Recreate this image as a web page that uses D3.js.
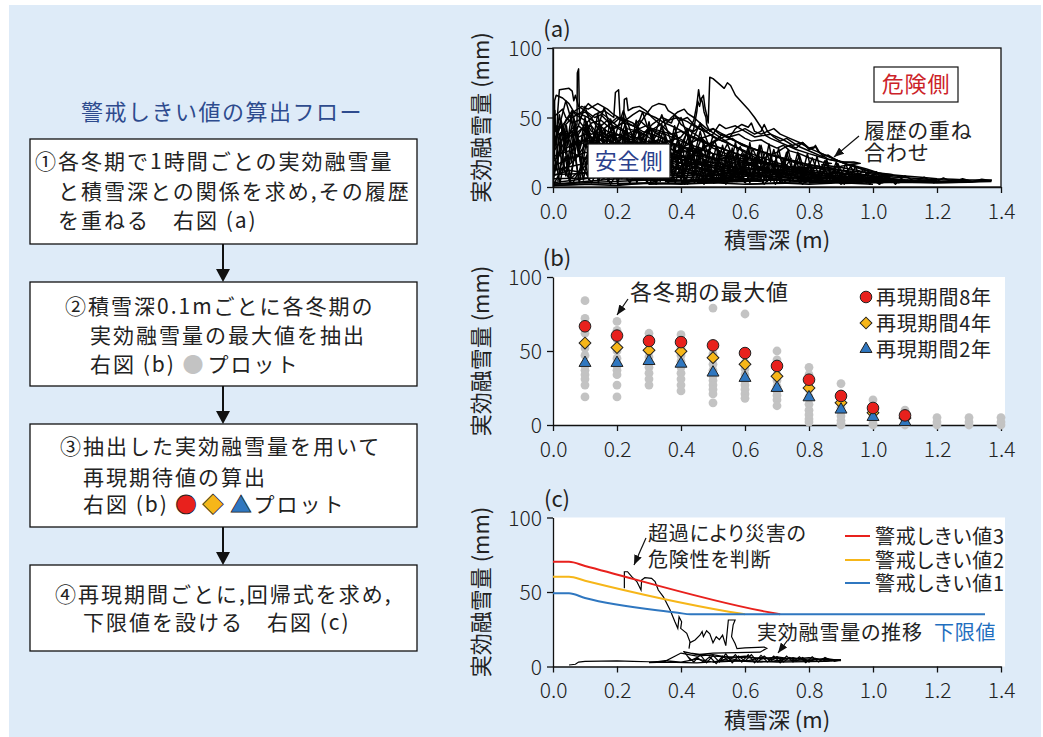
<!DOCTYPE html>
<html>
<head>
<meta charset="utf-8">
<style>
  body { margin: 0; background: #fff; }
  svg text { font-family: 'Noto Sans CJK JP', 'Noto Sans', sans-serif; font-weight: 400; }
  svg .tick text { font-weight: 300; }
  svg text.tight { font-feature-settings: "palt"; }
</style>
</head>
<body>
<svg id="fig" width="1043" height="737"></svg>
<script src="https://d3js.org/d3.v7.min.js"></script>
<script>
// ---- data ----
var depthTicks = [0, 0.2, 0.4, 0.6, 0.8, 1.0, 1.2, 1.4];
var meltTicks = [0, 50, 100];

// (a) hourly melt vs snow depth, one list per winter history
var histories = [
  [[0.005,20],[0.005,62],[0.01,66],[0.03,64],[0.05,60],[0.07,52],[0.1,48],[0.12,40],[0.16,36],[0.2,30],[0.25,25],[0.3,18],[0.35,12],[0.4,8],[0.3,3],[0.1,2],[0,1]],
  [[0.01,30],[0.015,55],[0.02,70],[0.05,71],[0.06,69],[0.065,62],[0.07,66],[0.08,58],[0.1,55],[0.13,50],[0.15,52],[0.18,45],[0.22,40],[0.26,33],[0.3,28],[0.36,22],[0.42,15],[0.5,10],[0.55,6],[0.4,3],[0.2,2]],
  [[0.02,10],[0.04,35],[0.06,42],[0.075,45],[0.076,82],[0.08,85],[0.083,48],[0.09,52],[0.11,50],[0.14,45],[0.17,40],[0.2,38],[0.24,31],[0.28,27],[0.33,20],[0.38,14],[0.45,9],[0.5,5],[0.35,4]],
  [[0.05,20],[0.08,38],[0.1,45],[0.13,52],[0.16,55],[0.19,50],[0.195,68],[0.205,70],[0.21,48],[0.22,50],[0.23,42],[0.27,40],[0.31,34],[0.35,30],[0.4,23],[0.45,18],[0.5,14],[0.56,9],[0.6,6],[0.5,3]],
  [[0.1,15],[0.13,30],[0.16,42],[0.2,50],[0.22,47],[0.223,63],[0.23,64],[0.235,55],[0.25,57],[0.27,58],[0.29,55],[0.31,50],[0.34,44],[0.37,38],[0.41,33],[0.45,26],[0.5,20],[0.55,15],[0.6,11],[0.65,7],[0.6,4],[0.45,3]],
  [[0.15,10],[0.2,25],[0.24,35],[0.27,45],[0.29,52],[0.31,58],[0.33,60],[0.35,59],[0.36,55],[0.38,52],[0.4,45],[0.43,40],[0.47,34],[0.5,28],[0.55,23],[0.6,18],[0.66,13],[0.7,9],[0.75,6],[0.6,4]],
  [[0.25,15],[0.3,30],[0.34,42],[0.37,50],[0.39,54],[0.41,56],[0.42,53],[0.44,50],[0.46,46],[0.48,42],[0.52,36],[0.56,30],[0.6,25],[0.65,19],[0.7,15],[0.76,11],[0.82,8],[0.9,5],[0.8,3],[0.6,2]],
  [[0.38,20],[0.41,35],[0.44,48],[0.45,60],[0.455,70],[0.46,62],[0.47,66],[0.475,57],[0.48,52],[0.485,46],[0.49,79],[0.5,78],[0.52,74],[0.535,71],[0.545,75],[0.555,73],[0.57,66],[0.59,61],[0.61,56],[0.63,50],[0.65,43],[0.665,37],[0.68,35],[0.7,33],[0.73,30],[0.76,27],[0.8,24],[0.83,22],[0.86,20],[0.9,18],[0.95,17],[0.9,15],[0.8,13],[0.7,12]],
  [[0.0,5],[0.02,25],[0.04,45],[0.06,50],[0.09,54],[0.11,60],[0.12,58],[0.14,55],[0.17,50],[0.2,44],[0.24,38],[0.28,33],[0.32,28],[0.37,22],[0.42,18],[0.48,12],[0.55,8],[0.62,5],[0.5,3],[0.3,2]],
  [[0.0,10],[0.03,30],[0.05,38],[0.08,44],[0.1,40],[0.12,46],[0.15,48],[0.18,42],[0.22,46],[0.25,44],[0.28,40],[0.32,37],[0.36,33],[0.4,29],[0.44,25],[0.5,21],[0.56,17],[0.62,13],[0.7,10],[0.78,7],[0.85,5],[0.7,3]],
  [[0.0,30],[0.02,42],[0.05,50],[0.07,55],[0.09,58],[0.11,56],[0.14,60],[0.17,56],[0.19,52],[0.22,48],[0.25,44],[0.27,48],[0.3,42],[0.34,36],[0.38,30],[0.43,24],[0.48,19],[0.53,14],[0.58,10],[0.64,6],[0.5,4]],
  [[0.1,20],[0.14,32],[0.18,40],[0.21,45],[0.25,52],[0.27,55],[0.29,53],[0.32,50],[0.35,46],[0.38,43],[0.42,38],[0.46,34],[0.5,30],[0.55,26],[0.6,22],[0.66,18],[0.72,14],[0.78,11],[0.85,8],[0.92,6],[0.8,4]],
  [[0.2,20],[0.24,30],[0.28,38],[0.31,45],[0.34,50],[0.36,48],[0.39,50],[0.42,47],[0.44,44],[0.47,40],[0.5,42],[0.53,38],[0.57,33],[0.62,28],[0.67,24],[0.72,20],[0.78,16],[0.84,13],[0.9,10],[0.98,7],[1.05,5],[0.9,3]],
  [[0.4,15],[0.45,25],[0.5,32],[0.55,38],[0.58,40],[0.6,42],[0.63,38],[0.65,40],[0.66,45],[0.67,40],[0.69,42],[0.71,38],[0.74,35],[0.77,32],[0.8,28],[0.82,29],[0.83,25],[0.86,22],[0.9,18],[0.95,14],[1.0,10],[1.06,8],[1.0,6],[0.9,5]],
  [[0.3,10],[0.35,20],[0.4,28],[0.45,34],[0.5,38],[0.52,45],[0.54,42],[0.57,44],[0.6,40],[0.63,36],[0.68,38],[0.72,34],[0.75,30],[0.78,32],[0.8,28],[0.84,24],[0.88,20],[0.92,16],[0.98,12],[1.04,9],[1.1,7],[1.0,5],[0.8,4]],
  [[0.5,5],[0.6,12],[0.7,15],[0.8,14],[0.9,12],[1.0,10],[1.05,9],[1.1,8],[1.15,7],[1.2,6],[1.25,5.5],[1.3,5],[1.37,5],[1.3,3.5],[1.2,3],[1.1,3.5],[1.0,3],[0.9,2.5]],
  [[0.0,2],[0.1,4],[0.2,6],[0.3,5],[0.4,7],[0.5,6],[0.6,8],[0.7,7],[0.8,6],[0.9,7],[1.0,5],[1.1,4],[1.2,4],[1.3,4],[1.37,4.5]],
  [[0.0,15],[0.05,20],[0.1,25],[0.15,22],[0.2,28],[0.25,24],[0.3,26],[0.35,22],[0.4,20],[0.45,17],[0.5,18],[0.55,15],[0.6,14],[0.65,12],[0.7,11],[0.75,9],[0.8,8],[0.9,6],[1.0,5],[0.8,3]],
  [[0.0,25],[0.03,35],[0.06,40],[0.08,36],[0.1,38],[0.13,34],[0.16,30],[0.2,32],[0.24,28],[0.28,25],[0.32,23],[0.36,20],[0.4,17],[0.45,14],[0.5,12],[0.55,10],[0.6,9],[0.65,7],[0.6,5],[0.4,4]],
  [[0.02,35],[0.04,48],[0.06,55],[0.08,52],[0.1,54],[0.12,50],[0.14,42],[0.16,38],[0.18,35],[0.2,38],[0.23,34],[0.26,30],[0.29,32],[0.32,27],[0.36,24],[0.4,20],[0.46,16],[0.52,13],[0.58,10],[0.64,8],[0.7,6]],
  [[0.002,0],[0.002,50],[0.004,45],[0.006,55],[0.008,40],[0.01,44],[0.012,30],[0.015,20],[0.02,10]],
  [[0.05,5],[0.1,15],[0.15,28],[0.2,35],[0.25,40],[0.28,38],[0.31,42],[0.34,40],[0.37,38],[0.4,40],[0.43,36],[0.47,32],[0.52,28],[0.57,24],[0.62,20],[0.68,17],[0.74,13],[0.8,11],[0.86,9],[0.93,7],[1.0,6],[1.1,5],[1.0,4],[0.8,3]],
  [[0.15,5],[0.2,12],[0.25,20],[0.3,26],[0.35,32],[0.4,36],[0.42,42],[0.44,40],[0.46,44],[0.48,40],[0.5,36],[0.53,33],[0.56,35],[0.59,30],[0.63,27],[0.68,23],[0.73,20],[0.78,17],[0.83,15],[0.88,13],[0.92,11],[0.97,9],[1.02,7]],
  [[0.0,40],[0.02,44],[0.04,38],[0.06,30],[0.08,34],[0.1,30],[0.12,33],[0.14,28],[0.17,25],[0.2,22],[0.24,19],[0.28,16],[0.33,14],[0.38,11],[0.44,9],[0.5,7],[0.58,5],[0.65,4]],
  [[0.08,10],[0.11,25],[0.13,38],[0.15,44],[0.17,48],[0.19,46],[0.21,50],[0.23,48],[0.25,46],[0.27,42],[0.29,44],[0.32,40],[0.35,38],[0.38,35],[0.42,31],[0.46,28],[0.5,24],[0.55,20],[0.6,17],[0.65,14],[0.7,11],[0.76,8],[0.82,6]],
  [[0.35,8],[0.4,18],[0.44,24],[0.48,30],[0.51,34],[0.53,38],[0.55,36],[0.58,38],[0.6,35],[0.62,33],[0.65,34],[0.68,30],[0.7,28],[0.72,30],[0.74,26],[0.77,24],[0.8,21],[0.84,18],[0.87,17],[0.84,16],[0.9,14],[0.95,12],[1.0,9],[1.05,8]],
  [[0.25,25],[0.28,35],[0.3,40],[0.33,44],[0.35,48],[0.37,46],[0.38,52],[0.4,48],[0.42,50],[0.44,45],[0.46,42],[0.49,38],[0.52,34],[0.56,30],[0.6,26],[0.64,22],[0.68,19],[0.72,16],[0.76,13],[0.8,10],[0.85,8],[0.9,6],[0.95,5]],
  [[1.0,2],[0.9,3],[0.8,2],[0.7,3],[0.6,2],[0.5,3],[0.4,2],[0.3,3],[0.2,1],[0.1,2],[0,1]],
  [[0.0,8],[0.05,12],[0.1,10],[0.15,14],[0.2,12],[0.25,15],[0.3,13],[0.35,16],[0.4,12],[0.45,14],[0.5,11],[0.55,12],[0.6,10],[0.7,9],[0.8,7],[0.9,6],[1.0,6],[1.1,5],[1.2,5]],
  [[0.0,18],[0.04,28],[0.08,32],[0.12,36],[0.16,34],[0.2,31],[0.22,36],[0.24,33],[0.28,30],[0.32,32],[0.36,28],[0.4,25],[0.44,26],[0.48,22],[0.52,20],[0.56,18],[0.6,16],[0.64,15],[0.68,13],[0.72,12],[0.76,10],[0.8,9],[0.84,8]],
  [[0.6,15],[0.65,20],[0.7,25],[0.72,28],[0.74,30],[0.76,28],[0.78,32],[0.8,27],[0.815,28],[0.82,30],[0.83,26],[0.84,23],[0.86,20],[0.88,19],[0.91,18],[0.94,18],[0.96,17],[0.93,16],[0.98,13],[1.02,10],[1.06,9],[1.04,8]],
  [[0.55,35],[0.57,42],[0.59,45],[0.61,43],[0.62,46],[0.63,40],[0.65,38],[0.67,40],[0.69,36],[0.71,33],[0.73,35],[0.75,32],[0.77,29],[0.79,27],[0.81,25],[0.84,22],[0.86,23],[0.88,20],[0.91,17]],
  [[0.42,30],[0.44,42],[0.45,55],[0.452,62],[0.458,58],[0.463,64],[0.468,60],[0.472,54],[0.478,50],[0.48,45],[0.49,40],[0.5,42],[0.52,38],[0.55,35],[0.58,32],[0.62,28],[0.66,25],[0.7,22],[0.75,19],[0.8,16],[0.85,14],[0.9,12]],
  [[0.03,12],[0.07,20],[0.1,30],[0.12,27],[0.14,35],[0.16,32],[0.18,38],[0.2,34],[0.22,30],[0.25,33],[0.28,29],[0.31,26],[0.34,27],[0.37,24],[0.41,21],[0.45,19],[0.49,16],[0.53,14],[0.57,12],[0.62,10],[0.68,8],[0.75,6],[0.82,5]],
  [[0.0,50],[0.01,52],[0.03,56],[0.04,50],[0.06,46],[0.08,48],[0.1,42],[0.12,44],[0.14,38],[0.17,35],[0.2,30],[0.23,27],[0.26,24],[0.3,21],[0.34,18],[0.38,15],[0.43,12],[0.48,10],[0.54,8],[0.6,6]],
  [[0,3],[0.1,6],[0.2,9],[0.3,8],[0.4,10],[0.5,9],[0.6,11],[0.7,10],[0.8,9],[0.9,8],[1.0,7],[1.05,6],[0.9,4],[0.7,5],[0.5,4],[0.3,5],[0.1,3],[0,2]],
  [[0,12],[0.08,16],[0.15,18],[0.22,20],[0.3,19],[0.38,18],[0.45,16],[0.52,15],[0.6,13],[0.68,12],[0.76,11],[0.84,10],[0.92,9],[1.0,8],[1.08,7],[1.15,6],[1.22,5],[1.3,4.5]],
  [[0,22],[0.05,26],[0.1,20],[0.15,24],[0.2,18],[0.25,22],[0.3,17],[0.35,19],[0.4,15],[0.45,17],[0.5,14],[0.55,15],[0.6,12],[0.65,13],[0.7,10],[0.75,11],[0.8,9],[0.85,8],[0.9,7]],
  [[0.05,28],[0.1,34],[0.15,30],[0.2,26],[0.25,30],[0.3,24],[0.35,26],[0.4,22],[0.45,23],[0.5,20],[0.55,21],[0.6,18],[0.65,17],[0.7,15],[0.75,14],[0.8,12],[0.85,11],[0.9,10],[0.95,9],[1.0,8]],
  [[0,35],[0.03,40],[0.06,36],[0.09,42],[0.12,38],[0.15,40],[0.18,36],[0.21,38],[0.24,34],[0.27,36],[0.3,32],[0.33,34],[0.36,30],[0.39,31],[0.42,28],[0.46,27],[0.5,24],[0.55,22],[0.6,20],[0.65,18],[0.7,16],[0.75,14],[0.8,13]]
];
// (a) hour-to-hour swings that fill the dense lower part
var hourlySwings = [
  [[0,5],[0.02,38],[0.04,8],[0.06,40],[0.08,6],[0.1,36],[0.12,9],[0.14,39],[0.16,7],[0.18,35],[0.2,10],[0.22,37],[0.24,8],[0.26,33],[0.28,6],[0.3,34],[0.32,9],[0.34,31],[0.36,7],[0.38,30],[0.4,5],[0.42,28],[0.44,8],[0.46,27],[0.48,6],[0.5,24],[0.52,5],[0.54,22],[0.56,4],[0.58,20],[0.6,3]],
  [[0.01,12],[0.03,44],[0.05,15],[0.07,46],[0.09,12],[0.11,42],[0.13,16],[0.15,45],[0.17,14],[0.19,41],[0.21,17],[0.23,43],[0.25,13],[0.27,40],[0.29,15],[0.31,38],[0.33,12],[0.35,36],[0.37,14],[0.39,35],[0.41,11],[0.43,33],[0.45,13],[0.47,31],[0.49,10],[0.51,29],[0.53,9],[0.55,26],[0.57,8],[0.59,24],[0.61,7],[0.63,21],[0.65,6]],
  [[0.5,4],[0.52,26],[0.54,6],[0.56,28],[0.58,5],[0.6,24],[0.62,7],[0.64,25],[0.66,5],[0.68,22],[0.7,6],[0.72,20],[0.74,4],[0.76,19],[0.78,5],[0.8,17],[0.82,4],[0.84,15],[0.86,3],[0.88,13],[0.9,4],[0.92,12],[0.94,3],[0.96,10],[0.98,3],[1.0,9],[1.02,2],[1.04,8],[1.06,3]],
  [[0.51,12],[0.53,30],[0.55,10],[0.57,32],[0.59,12],[0.61,29],[0.63,9],[0.65,30],[0.67,11],[0.69,27],[0.71,9],[0.73,25],[0.75,10],[0.77,23],[0.79,8],[0.81,21],[0.83,9],[0.85,19],[0.87,7],[0.89,17],[0.91,6],[0.93,15],[0.95,6],[0.97,13],[0.99,5],[1.01,11],[1.03,5],[1.05,9]],
  [[0,1],[0.03,14],[0.06,2],[0.09,15],[0.12,3],[0.15,16],[0.18,2],[0.21,14],[0.24,3],[0.27,15],[0.3,2],[0.33,13],[0.36,3],[0.39,14],[0.42,2],[0.45,12],[0.48,3],[0.51,13],[0.54,2],[0.57,11],[0.6,3],[0.63,12],[0.66,2],[0.69,10],[0.72,3],[0.75,9],[0.78,2],[0.81,9],[0.84,3],[0.87,8],[0.9,2],[0.93,7],[0.96,3],[0.99,6],[1.02,2],[1.05,6],[1.08,3],[1.11,5]],
  [[0,20],[0.02,52],[0.04,24],[0.06,55],[0.08,22],[0.1,50],[0.12,26],[0.14,53],[0.16,24],[0.18,49],[0.2,27],[0.22,51],[0.24,25],[0.26,48],[0.28,23],[0.3,47],[0.32,26],[0.34,45],[0.36,22],[0.38,44],[0.4,24],[0.42,42],[0.44,21],[0.46,40],[0.48,20],[0.5,37]],
  [[0.005,28],[0.025,48],[0.045,30],[0.065,50],[0.085,28],[0.105,47],[0.125,30],[0.145,46],[0.165,29],[0.185,44],[0.205,31],[0.225,45],[0.245,28],[0.265,42],[0.285,30],[0.305,43],[0.325,27],[0.345,41],[0.365,28],[0.385,38],[0.405,26],[0.425,37],[0.445,25],[0.465,35],[0.485,24],[0.505,33],[0.525,22],[0.545,31],[0.565,20],[0.585,29],[0.605,18],[0.625,27],[0.645,17],[0.665,25],[0.685,15],[0.705,23],[0.725,14],[0.745,21]],
  [[0.01,35],[0.04,62],[0.07,38],[0.1,58],[0.13,36],[0.16,57],[0.19,34],[0.22,55],[0.25,35],[0.28,54],[0.31,33],[0.34,52],[0.37,32],[0.4,50],[0.43,30],[0.46,46],[0.49,28]],
  [[0.6,10],[0.615,32],[0.63,12],[0.645,30],[0.66,14],[0.675,31],[0.69,12],[0.705,28],[0.72,11],[0.735,27],[0.75,12],[0.765,25],[0.78,10],[0.795,24],[0.81,9],[0.825,22],[0.84,8],[0.855,20],[0.87,8],[0.885,18],[0.9,7],[0.915,17],[0.93,6],[0.945,15],[0.96,6]],
  [[0.95,3],[0.98,10],[1.01,4],[1.04,9],[1.07,3],[1.1,8],[1.13,4],[1.16,7],[1.19,3],[1.22,6.5],[1.25,3.5],[1.28,6],[1.31,4],[1.34,5.5],[1.37,4.5]],
  [[0.015,4],[0.035,30],[0.055,6],[0.075,33],[0.095,5],[0.115,31],[0.135,7],[0.155,29],[0.175,5],[0.195,30],[0.215,6],[0.235,28],[0.255,5],[0.275,27],[0.295,7],[0.315,26],[0.335,4],[0.355,25],[0.375,6],[0.395,23],[0.415,4],[0.435,22],[0.455,5],[0.475,20],[0.495,4],[0.515,18],[0.535,3],[0.555,17],[0.575,4],[0.595,15],[0.615,3],[0.635,14],[0.655,3],[0.675,12],[0.695,2],[0.715,11]],
  [[0,6],[0.2,7],[0.4,5],[0.6,6],[0.8,4],[1.0,4],[1.2,3],[1.37,4]],
  [[0,9],[0.15,10],[0.3,9],[0.45,8],[0.6,9],[0.75,7],[0.9,6],[1.05,5],[1.2,4.5]],
  [[0.008,18],[0.022,3],[0.038,22],[0.052,4],[0.068,24],[0.082,3],[0.098,21],[0.112,5],[0.128,23],[0.142,3],[0.158,20],[0.172,4],[0.188,22],[0.202,2],[0.218,19],[0.232,5],[0.248,21],[0.262,3],[0.278,18],[0.292,4],[0.308,20],[0.322,2],[0.338,17],[0.352,4],[0.368,16],[0.382,3],[0.398,15],[0.412,2],[0.428,14],[0.442,3],[0.458,13],[0.472,2],[0.488,12],[0.502,3],[0.518,11]],
  [[0.012,42],[0.028,16],[0.042,44],[0.058,18],[0.072,41],[0.088,15],[0.102,43],[0.118,17],[0.132,40],[0.148,19],[0.162,42],[0.178,16],[0.192,39],[0.208,18],[0.222,40],[0.238,15],[0.252,37],[0.268,17],[0.282,38],[0.298,14],[0.312,35],[0.328,16],[0.342,34],[0.358,13],[0.372,33],[0.388,15],[0.402,31],[0.418,12],[0.432,30],[0.448,13],[0.462,28],[0.478,11],[0.492,26]],
  [[0.305,30],[0.32,8],[0.335,31],[0.35,7],[0.365,29],[0.38,9],[0.395,30],[0.41,6],[0.425,28],[0.44,8],[0.455,29],[0.47,7],[0.485,27],[0.5,6],[0.515,26],[0.53,8],[0.545,25],[0.56,5],[0.575,24],[0.59,7],[0.605,23],[0.62,5],[0.635,21],[0.65,6],[0.665,20],[0.68,4],[0.695,19],[0.71,5],[0.725,17],[0.74,4],[0.755,16],[0.77,3],[0.785,14],[0.8,4]],
  [[0.65,18],[0.67,4],[0.69,17],[0.71,3],[0.73,16],[0.75,5],[0.77,15],[0.79,3],[0.81,14],[0.83,4],[0.85,13],[0.87,3],[0.89,12],[0.91,2],[0.93,11],[0.95,3],[0.97,9],[0.99,2],[1.01,8],[1.03,3],[1.05,7],[1.07,2],[1.09,6]]
];

// (b) yearly maxima per 0.1 m of snow depth
var depthSteps = [0.1, 0.2, 0.3, 0.4, 0.5, 0.6, 0.7, 0.8, 0.9, 1.0, 1.1, 1.2, 1.3, 1.4];
var yearlyMax = [
  [84, 72, 62, 52, 47, 40, 37, 34, 31, 27, 19],
  [70, 64, 58, 50, 45, 40, 37, 34, 27, 19],
  [62, 59, 55, 50, 46, 42, 39, 35, 31, 27],
  [61, 57, 52, 47, 43, 39, 35, 31, 27, 23],
  [79, 54, 48, 41, 37, 33, 30, 27, 24, 21, 15],
  [75, 48, 42, 38, 34, 30, 27, 24, 21, 18],
  [50, 44, 38, 34, 30, 26, 23, 20, 17, 13],
  [39, 34, 29, 24, 19, 14, 10, 7, 4, 2],
  [28, 21, 16, 12, 9, 6, 3, 1, 0],
  [17, 12, 9, 6, 3, 1, 0],
  [10, 7, 4, 2, 0],
  [5, 2, 0],
  [5, 2, 0],
  [5, 2, 0]
];
var returnSteps = [0.1, 0.2, 0.3, 0.4, 0.5, 0.6, 0.7, 0.8, 0.9, 1.0, 1.1];
var return8 = [66.7, 60.4, 56.8, 56, 53.8, 48.6, 39.9, 30.6, 19.6, 11.5, 6.5];
var return4 = [55.4, 52.3, 50.5, 49.8, 45.5, 41, 32.9, 25, 15, 8.3, 4.7];
var return2 = [41.9, 41.9, 43.2, 41.4, 35.4, 31.8, 25, 18.7, 10.4, 5.4, 2];
var returnLabels = ["再現期間8年", "再現期間4年", "再現期間2年"];

// (c) warning thresholds and one melt history
var thr3 = [[0, 70.3], [0.05, 70.3], [0.1, 67.5], [0.66, 37], [0.71, 35]];
var thr2 = [[0, 60.3], [0.05, 60.3], [0.1, 57.6], [0.55, 36.8], [0.6, 35]];
var thr1 = [[0, 49.1], [0.05, 49.1], [0.1, 46], [0.39, 36.1], [0.43, 35], [1.35, 35]];
var thrLabels = ["警戒しきい値3", "警戒しきい値2", "警戒しきい値1"];
var meltUpper = [[0.223,52.5],[0.223,63.6],[0.233,63.6],[0.246,60.3],[0.262,57],[0.275,51.3],[0.277,58],[0.287,59.6],[0.308,59.2],[0.319,57],[0.329,51.3],[0.345,46.8],[0.366,37.9],[0.381,30],[0.39,25.6],[0.394,33.4],[0.402,30],[0.399,25.6],[0.418,22.3],[0.428,16.6],[0.425,12],[0.428,16],[0.444,17.8],[0.459,21],[0.466,23.4],[0.47,20],[0.48,24],[0.49,22],[0.5,16],[0.51,20],[0.52,18],[0.53,21],[0.54,14],[0.548,31.2],[0.569,31.2],[0.563,28],[0.558,20],[0.569,15.4],[0.575,12],[0.6,12.5],[0.66,13],[0.668,12.2],[0.647,9.6],[0.5,9],[0.45,8],[0.407,10],[0.43,9],[0.5,7],[0.6,6],[0.7,5.5],[0.8,5],[0.9,4.5],[0.85,3.5],[0.7,3],[0.6,4],[0.5,3]];
var meltLower = [[0.05,1],[0.07,1.5],[0.08,3],[0.1,3.5],[0.15,3.6],[0.2,3.8],[0.25,3.5],[0.3,3.2],[0.35,3.5],[0.4,9],[0.45,7],[0.5,8],[0.55,6],[0.6,7],[0.65,5],[0.7,6.5],[0.75,5],[0.8,6],[0.85,4.5],[0.9,4],[0.85,5.5],[0.8,4],[0.75,6],[0.7,4],[0.65,6],[0.6,3.5],[0.55,5.5],[0.5,3],[0.45,5],[0.4,3],[0.35,4],[0.3,2.5],[0.35,3],[0.45,2.5],[0.55,4],[0.65,3],[0.75,4],[0.85,3.5],[0.9,4.5]];
var meltCluster = [[0.42,7],[0.44,3],[0.46,8],[0.48,2.5],[0.5,7.5],[0.52,3],[0.54,8.5],[0.56,2.5],[0.58,7],[0.6,3.5],[0.62,8],[0.64,3],[0.66,7],[0.68,3.5],[0.7,6.5],[0.72,3],[0.74,6],[0.76,3.5],[0.78,6],[0.8,3],[0.82,5.5],[0.84,3.5],[0.86,5],[0.88,3.5],[0.9,4.5],[0.87,4],[0.85,6],[0.83,3],[0.81,6.5],[0.79,2.5],[0.77,6.5],[0.75,3],[0.73,7],[0.71,2.5],[0.69,7],[0.67,3],[0.65,7.5],[0.63,2.5],[0.61,8],[0.59,3],[0.57,8],[0.55,3.5],[0.53,7],[0.51,2],[0.49,6.5],[0.47,3],[0.45,6],[0.43,4],[0.41,10]];

// flow chart text
var flowTitle = "警戒しきい値の算出フロー";
var flowBoxes = [
  { y0: 139, y1: 244, lines: [[35, 169, "①各冬期で1時間ごとの実効融雪量"], [58, 199, "と積雪深との関係を求め,その履歴"], [58, 228, "を重ねる　右図 (a)"]] },
  { y0: 282, y1: 386, lines: [[65, 314, "②積雪深0.1mごとに各冬期の"], [90, 343, "実効融雪量の最大値を抽出"], [90, 372, "右図 (b) "]] },
  { y0: 424, y1: 527, lines: [[60, 454, "③抽出した実効融雪量を用いて"], [83, 485, "再現期待値の算出"], [83, 512, "右図 (b) "]] },
  { y0: 565, y1: 651, lines: [[55, 602, "④再現期間ごとに,回帰式を求め,"], [83, 630, "下限値を設ける　右図 (c)"]] }
];

// ---- drawing ----
var RED = "#e8211d", ORANGE = "#f6b619", BLUE = "#2f77c0", GRAY = "#c3c3c3";
var svg = d3.select("#fig");

svg.append("rect").attr("x", 9).attr("y", 5).attr("width", 1032).attr("height", 732).attr("fill", "#deebf8");

var defs = svg.append("defs");
defs.append("marker").attr("id", "arr").attr("markerUnits", "userSpaceOnUse")
  .attr("markerWidth", 10).attr("markerHeight", 8).attr("refX", 10).attr("refY", 4).attr("orient", "auto")
  .append("path").attr("d", "M0,0L10,4L0,8z").attr("fill", "#111");

// flow chart
svg.append("text").attr("x", 222).attr("y", 120).attr("text-anchor", "middle")
  .attr("font-size", 22).style("letter-spacing", "1.5px").attr("fill", "#2e4b8e").text(flowTitle);

flowBoxes.forEach(function (b, i) {
  svg.append("rect").attr("x", 30).attr("y", b.y0).attr("width", 387).attr("height", b.y1 - b.y0)
    .attr("fill", "#fff").attr("stroke", "#111").attr("stroke-width", 1.3);
  b.lines.forEach(function (l) {
    svg.append("text").attr("class", "flow").attr("x", l[0]).attr("y", l[1])
      .attr("font-size", 21).style("letter-spacing", "2px").attr("fill", "#222").text(l[2]);
  });
  if (i < flowBoxes.length - 1) {
    var nx = flowBoxes[i + 1].y0;
    svg.append("line").attr("x1", 223).attr("x2", 223).attr("y1", b.y1).attr("y2", nx - 12)
      .attr("stroke", "#111").attr("stroke-width", 2);
    svg.append("path").attr("d", "M216," + (nx - 13) + "L230," + (nx - 13) + "L223," + nx + "z").attr("fill", "#111");
  }
});
// plot glyphs inside flow boxes 2 and 3
var flowTexts = svg.selectAll("text.flow").nodes();
var t2 = d3.select(flowTexts[5]);
t2.append("tspan").attr("fill", GRAY).text("●");
t2.append("tspan").attr("dx", 2).text("プロット");
var t3 = d3.select(flowTexts[8]);
t3.append("tspan").attr("fill", RED).attr("stroke", "#222").attr("stroke-width", 0.8).text("●");
t3.append("tspan").attr("dx", 4).attr("fill", ORANGE).attr("stroke", "#222").attr("stroke-width", 0.8).text("◆");
t3.append("tspan").attr("dx", 5).attr("fill", BLUE).attr("stroke", "#222").attr("stroke-width", 0.8).text("▲");
t3.append("tspan").text("プロット");

// charts
var X0 = 553, X1 = 1001;
var x = d3.scaleLinear().domain([0, 1.4]).range([X0, X1]);
var yA = d3.scaleLinear().domain([0, 100]).range([187, 48]);
var yB = d3.scaleLinear().domain([0, 100]).range([425, 277]);
var yC = d3.scaleLinear().domain([0, 100]).range([666.5, 517.5]);

function frame(y, boxed, tag, xTitle) {
  svg.append("rect").attr("x", X0).attr("y", y(100)).attr("width", boxed ? X1 - X0 : X1 - X0 + 4)
    .attr("height", y(0) - y(100)).attr("fill", "#fff");
  var gx = svg.append("g").attr("transform", "translate(0," + y(0) + ")")
    .call(d3.axisBottom(x).tickValues(depthTicks).tickFormat(d3.format(".1f")).tickSize(6).tickSizeOuter(0).tickPadding(11));
  var gy = svg.append("g").attr("transform", "translate(" + X0 + ",0)")
    .call(d3.axisLeft(y).tickValues(meltTicks).tickSize(6).tickSizeOuter(0).tickPadding(5));
  [gx, gy].forEach(function (g) {
    g.attr("font-family", null).attr("font-size", 21);
    g.selectAll("text").attr("fill", "#222");
    g.selectAll("path, line").attr("stroke", "#111").attr("stroke-width", 1.3);
  });
  gy.selectAll("text").attr("dy", "0.36em");
  svg.append("text").attr("transform", "translate(489," + ((y(0) + y(100)) / 2) + ") rotate(-90)")
    .attr("text-anchor", "middle").attr("font-size", 22).attr("fill", "#222").text("実効融雪量 (mm)");
  svg.append("text").attr("x", 557).attr("y", y(100) - 11).attr("text-anchor", "middle")
    .attr("font-size", 22).attr("fill", "#222").text(tag);
  if (xTitle) {
    svg.append("text").attr("x", (X0 + X1) / 2).attr("y", y(0) + 61).attr("text-anchor", "middle")
      .attr("font-size", 22).attr("fill", "#222").text("積雪深 (m)");
  }
}

function note(px, py, txt, color, size) {
  return svg.append("text").attr("class", "tight").attr("x", px).attr("y", py).attr("font-size", size || 20)
    .style("letter-spacing", "0.8px").attr("fill", color || "#222").text(txt);
}
function pointer(x1, y1, x2, y2) {
  svg.append("line").attr("x1", x1).attr("y1", y1).attr("x2", x2).attr("y2", y2)
    .attr("stroke", "#111").attr("stroke-width", 1.2).attr("marker-end", "url(#arr)");
}

// (a)
frame(yA, true, "(a)", true);
defs.append("clipPath").attr("id", "clipA").append("rect")
  .attr("x", X0).attr("y", yA(100)).attr("width", X1 - X0).attr("height", yA(0) - yA(100));
var lineA = d3.line().x(function (d) { return x(d[0]); }).y(function (d) { return yA(d[1]); });
var gA = svg.append("g").attr("clip-path", "url(#clipA)");
gA.selectAll("path.hist").data(histories).enter().append("path").attr("class", "hist")
  .attr("d", lineA).attr("fill", "none").attr("stroke", "#000").attr("stroke-width", 1.5).attr("stroke-linejoin", "round");
gA.selectAll("path.swing").data(hourlySwings).enter().append("path").attr("class", "swing")
  .attr("d", lineA).attr("fill", "none").attr("stroke", "#000").attr("stroke-width", 1.5).attr("stroke-linejoin", "round");
svg.append("rect").attr("x", X0).attr("y", yA(100)).attr("width", X1 - X0).attr("height", yA(0) - yA(100))
  .attr("fill", "none").attr("stroke", "#111").attr("stroke-width", 1.3);
svg.append("rect").attr("x", 588).attr("y", 144).attr("width", 82).attr("height", 34).attr("fill", "#fff").attr("stroke", "#111").attr("stroke-width", 1.2);
note(629, 169, "安全側", "#2b3f8c", 22).attr("text-anchor", "middle");
svg.append("rect").attr("x", 874).attr("y", 67).attr("width", 84).attr("height", 35).attr("fill", "#fff").attr("stroke", "#111").attr("stroke-width", 1.2);
note(916, 92, "危険側", "#cc2229", 22).attr("text-anchor", "middle");
note(864, 138, "履歴の重ね", "#222", 21);
note(864, 160, "合わせ", "#222", 21);
pointer(859, 136, 834, 157);

// (b)
frame(yB, false, "(b)", false);
var gray = [];
depthSteps.forEach(function (s, i) { yearlyMax[i].forEach(function (v) { gray.push([s, v]); }); });
svg.append("g").selectAll("circle").data(gray).enter().append("circle")
  .attr("cx", function (d) { return x(d[0]); }).attr("cy", function (d) { return yB(d[1]); })
  .attr("r", 4.4).attr("fill", GRAY);
var diamond = d3.symbol().type(d3.symbolSquare).size(70);
var triangle = d3.symbol().type(d3.symbolTriangle).size(62);
svg.append("g").selectAll("path").data(return4).enter().append("path")
  .attr("d", diamond).attr("transform", function (d, i) { return "translate(" + x(returnSteps[i]) + "," + yB(d) + ") rotate(45)"; })
  .attr("fill", ORANGE).attr("stroke", "#222").attr("stroke-width", 1);
svg.append("g").selectAll("path").data(return2).enter().append("path")
  .attr("d", triangle).attr("transform", function (d, i) { return "translate(" + x(returnSteps[i]) + "," + yB(d) + ")"; })
  .attr("fill", BLUE).attr("stroke", "#222").attr("stroke-width", 1);
svg.append("g").selectAll("circle").data(return8).enter().append("circle")
  .attr("cx", function (d, i) { return x(returnSteps[i]); }).attr("cy", function (d) { return yB(d); })
  .attr("r", 5.8).attr("fill", RED).attr("stroke", "#222").attr("stroke-width", 1);
// legend (b)
var legB = [297, 323, 349];
svg.append("circle").attr("cx", 866).attr("cy", legB[0]).attr("r", 5.8).attr("fill", RED).attr("stroke", "#222");
svg.append("path").attr("d", diamond).attr("transform", "translate(866," + legB[1] + ") rotate(45)").attr("fill", ORANGE).attr("stroke", "#222");
svg.append("path").attr("d", triangle).attr("transform", "translate(866," + legB[2] + ")").attr("fill", BLUE).attr("stroke", "#222");
returnLabels.forEach(function (t, i) { note(876, legB[i] + 7.5, t); });
note(630, 300, "各冬期の最大値", "#222", 22);
pointer(628, 299, 617, 315);

// (c)
frame(yC, false, "(c)", true);
var lineC = d3.line().x(function (d) { return x(d[0]); }).y(function (d) { return yC(d[1]); });
var smoothC = d3.line().curve(d3.curveMonotoneX).x(function (d) { return x(d[0]); }).y(function (d) { return yC(d[1]); });
[meltLower, meltCluster, meltUpper].forEach(function (tr) {
  svg.append("path").attr("d", lineC(tr)).attr("fill", "none").attr("stroke", "#000").attr("stroke-width", 1.2);
});
var thrSeries = [thr3, thr2, thr1];
var thrColors = [RED, ORANGE, BLUE];
thrSeries.forEach(function (s, i) {
  svg.append("path").attr("d", smoothC(s)).attr("fill", "none").attr("stroke", thrColors[i]).attr("stroke-width", 2);
});
var legC = [536, 560, 583];
thrLabels.forEach(function (t, i) {
  svg.append("line").attr("x1", 845).attr("x2", 870).attr("y1", legC[i]).attr("y2", legC[i]).attr("stroke", thrColors[i]).attr("stroke-width", 2);
  note(875, legC[i] + 7.5, t);
});
note(648, 541, "超過により災害の");
note(648, 567, "危険性を判断");
pointer(646, 538, 634, 565);
note(757, 640, "実効融雪量の推移");
note(934, 640, "下限値", "#1f6fbf");
pointer(787, 641, 778, 653);
</script>
</body>
</html>
